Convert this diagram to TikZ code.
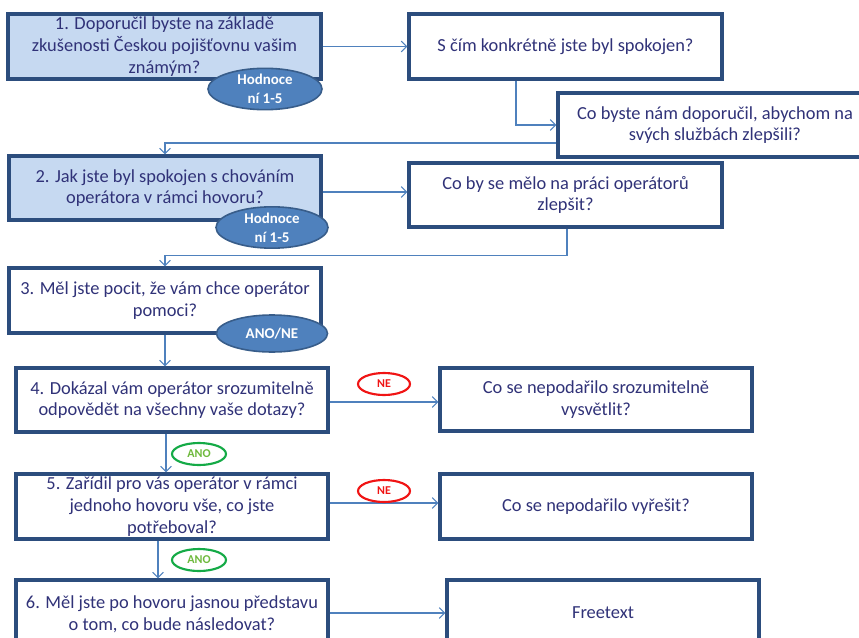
\documentclass[tikz,border=0pt]{standalone}
\usepackage{fontspec}
\setmainfont{Carlito}
\usetikzlibrary{arrows.meta,shapes.geometric}
\definecolor{boxline}{RGB}{44,77,125}
\definecolor{boxfill}{RGB}{198,217,241}
\definecolor{conline}{RGB}{79,129,189}
\definecolor{txt}{RGB}{48,50,120}
\definecolor{ovfill}{RGB}{79,129,189}
\definecolor{ovline}{RGB}{56,93,138}
\definecolor{nered}{RGB}{240,20,20}
\definecolor{anogreen}{RGB}{20,170,70}
\definecolor{anotxt}{RGB}{110,185,60}
\begin{document}
\begin{tikzpicture}[x=0.75pt,y=-0.75pt,
  qbox/.style 2 args={draw=boxline,line width=2.3pt,fill=white,rectangle,
    minimum width=#1*0.75pt,minimum height=#2*0.75pt,inner sep=0pt,
    align=center,text=txt,font=\fontsize{13.8}{16.2}\selectfont},
  hbox/.style={fill=boxfill},
  oval/.style 2 args={ellipse,draw=ovline,line width=1.2pt,fill=ovfill,
    minimum width=#1*0.75pt,minimum height=#2*0.75pt,inner sep=0pt,
    align=center,text=white,font=\fontsize{11.2}{14}\selectfont\bfseries},
  tag/.style={ellipse,fill=white,line width=1.6pt,
    minimum width=52*0.75pt,minimum height=22*0.75pt,inner sep=0pt,
    font=\fontsize{9}{10}\selectfont\bfseries},
  conn/.style={draw=conline,line width=1.1pt,-{Straight Barb[length=4pt,width=8pt,line width=0.9pt]}},
  link/.style={draw=conline,line width=1.1pt}]
\useasboundingbox (0,0) rectangle (859,638);
\begin{scope}
\clip (0,0) rectangle (859,638);

% question boxes (left column)
\node[qbox={313}{65},hbox] (q1) at (164.5,46.5)
  {1. Doporučil byste na základě\\zkušenosti Českou pojišťovnu vašim\\známým?};
\node[qbox={312}{64},hbox] (q2) at (165,188)
  {2. Jak jste byl spokojen s chováním\\operátora v rámci hovoru?};
\node[qbox={312}{65}] (q3) at (165,300.5)
  {3. Měl jste pocit, že vám chce operátor\\pomoci?};
\node[qbox={312}{64}] (q4) at (172,400)
  {4. Dokázal vám operátor srozumitelně\\odpovědět na všechny vaše dotazy?};
\node[qbox={312}{65}] (q5) at (172,506.5)
  {5. Zařídil pro vás operátor v rámci\\jednoho hovoru vše, co jste\\potřeboval?};
\node[qbox={312}{68}] (q6) at (172,614)
  {6. Měl jste po hovoru jasnou představu\\o tom, co bude následovat?};

% follow-up boxes (right column)
\node[qbox={313}{65}] (fa) at (565.5,46.5) {S čím konkrétně jste byl spokojen?};
\node[qbox={314}{64}] (fb) at (715,125)
  {Co byste nám doporučil, abychom na\\svých službách zlepšili?};
\node[qbox={313}{64}] (fc) at (565.5,195)
  {Co by se mělo na práci operátorů\\zlepšit?};
\node[qbox={312}{63}] (fd) at (596,399.5)
  {Co se nepodařilo srozumitelně\\vysvětlit?};
\node[qbox={312}{65}] (fe) at (596,506.5) {Co se nepodařilo vyřešit?};
\node[qbox={312}{66}] (ff) at (603,613) {Freetext};

% connectors
\draw[conn] (q1.east) -- (fa.west);
\draw[conn] ([xshift=-49.5*0.75pt]fa.south) |- (fb.west);
\draw[conn] ([yshift=-18*0.75pt]fb.west) -| (q2.north);
\draw[conn] ([yshift=-4*0.75pt]q2.east) -- ([yshift=3*0.75pt]fc.west);
\draw[conn] ([xshift=1.5*0.75pt]fc.south) -- ++(0,27) -| (q3.north);
\draw[conn] (q3.south) -- (q3.south |- q4.north);
\draw[conn] ([yshift=-2*0.75pt]q4.east) -- ([yshift=-2.5*0.75pt]fd.west);
\draw[conn] ([xshift=-6*0.75pt]q4.south) -- ([xshift=-6*0.75pt]q4.south |- q5.north);
\draw[conn] ([yshift=3.5*0.75pt]q5.east) -- ([yshift=3.5*0.75pt]fe.west);
\draw[conn] ([xshift=-14*0.75pt]q5.south) -- ([xshift=-14*0.75pt]q5.south |- q6.north);
\draw[conn] ([yshift=1*0.75pt]q6.east) -- (ff.west);

% rating ovals
\node[oval={114}{38}] (r1) at (265,89) {Hodnoce\\ní 1-5};
\node[oval={112}{39}] (r2) at (272,227.5) {Hodnoce\\ní 1-5};
\node[oval={111}{37}] (r3) at (272,333.5) {ANO/NE};

% answer tags
\node[tag,draw=nered,text=nered] (ne1) at (384,384) {NE};
\node[tag,draw=anogreen,text=anotxt,minimum width=54*0.75pt] (ano1) at (199,454) {ANO};
\node[tag,draw=nered,text=nered] (ne2) at (384,491) {NE};
\node[tag,draw=anogreen,text=anotxt,minimum width=54*0.75pt] (ano2) at (199,560) {ANO};
\end{scope}
\end{tikzpicture}
\end{document}
